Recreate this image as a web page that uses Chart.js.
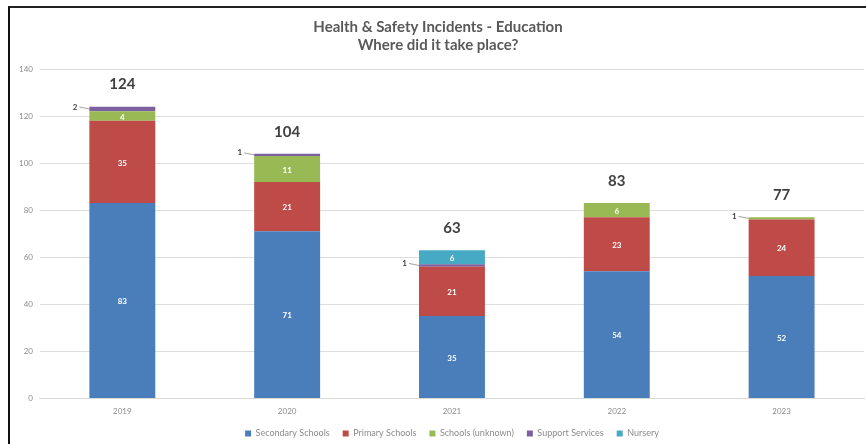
<!DOCTYPE html>
<html>
<head>
<meta charset="utf-8">
<script src="https://cdn.jsdelivr.net/npm/chart.js@4/dist/chart.umd.min.js"></script>
<style>
  html, body { margin: 0; padding: 0; background: #fff; }
  #frame {
    position: absolute; left: 8px; top: 6px;
    width: 856px; height: 438px;
    border-left: 2px solid #111; border-top: 2px solid #222;
  }
  #canvas-container { position: absolute; left: 0; top: 0; width: 856px; height: 438px; }
</style>
</head>
<body>
<div id="frame"><div id="canvas-container"><canvas id="incidents"></canvas></div></div>
<script>
const years = ["2019", "2020", "2021", "2022", "2023"];
const secondarySchools = [83, 71, 35, 54, 52];
const primarySchools = [35, 21, 21, 23, 24];
const schoolsUnknown = [4, 11, 0, 6, 1];
const supportServices = [2, 1, 1, 0, 0];
const nursery = [0, 0, 6, 0, 0];
const yTicks = [0, 20, 40, 60, 80, 100, 120, 140];

const FONT = "Lato, 'Open Sans', sans-serif";

// labels inside segments, callouts for the tiny ones, totals on top
const segmentLabels = {
  id: "segmentLabels",
  afterDatasetsDraw(chart) {
    const ctx = chart.ctx;
    ctx.save();
    chart.data.datasets.forEach((ds, i) => {
      const meta = chart.getDatasetMeta(i);
      meta.data.forEach((bar, j) => {
        const v = ds.data[j];
        if (!v) return;
        const mid = (bar.y + bar.base) / 2;
        if (v >= 3) {
          ctx.fillStyle = "#fff";
          ctx.font = "bold 8px " + FONT;
          ctx.textAlign = "center";
          ctx.textBaseline = "middle";
          ctx.fillText(String(v), bar.x, mid + 1);
        } else {
          const left = bar.x - bar.width / 2;
          ctx.strokeStyle = "#8c8c8c";
          ctx.lineWidth = 0.8;
          ctx.beginPath();
          ctx.moveTo(left - 10, mid - 2);
          ctx.lineTo(left, mid);
          ctx.stroke();
          ctx.fillStyle = "#404040";
          ctx.font = "bold 8px " + FONT;
          ctx.textAlign = "right";
          ctx.textBaseline = "middle";
          ctx.fillText(String(v), left - 12, mid - 2);
        }
      });
    });
    const y = chart.scales.y;
    const meta0 = chart.getDatasetMeta(0);
    years.forEach((yr, j) => {
      const total = chart.data.datasets.reduce((s, ds) => s + (ds.data[j] || 0), 0);
      ctx.fillStyle = "#404040";
      ctx.font = "bold 15px " + FONT;
      ctx.textAlign = "center";
      ctx.textBaseline = "middle";
      ctx.fillText(String(total), meta0.data[j].x, y.getPixelForValue(total) - 22);
    });
    ctx.restore();
  }
};

const data = {
  labels: years,
  datasets: [
    { label: "Secondary Schools", data: secondarySchools, backgroundColor: "#4a7ebb" },
    { label: "Primary Schools", data: primarySchools, backgroundColor: "#be4b48" },
    { label: "Schools (unknown)", data: schoolsUnknown, backgroundColor: "#98b954" },
    { label: "Support Services", data: supportServices, backgroundColor: "#7d60a0" },
    { label: "Nursery", data: nursery, backgroundColor: "#46aac5" }
  ]
};

const config = {
  type: "bar",
  data: data,
  plugins: [segmentLabels],
  options: {
    responsive: false,
    animation: false,
    maintainAspectRatio: false,
    layout: { padding: { top: 0, right: 2, left: 2, bottom: -2 } },
    datasets: { bar: { categoryPercentage: 1, barPercentage: 0.4 } },
    scales: {
      x: {
        stacked: true,
        grid: { display: false },
        border: { color: "#d9d9d9" },
        ticks: { color: "#8c8c8c", font: { family: FONT, size: 8 }, padding: 0 }
      },
      y: {
        stacked: true,
        min: 0, max: 140,
        afterBuildTicks(axis) { axis.ticks = yTicks.map(v => ({ value: v })); },
        grid: { color: "#dedede", drawTicks: false },
        border: { display: false },
        ticks: { color: "#8c8c8c", font: { family: FONT, size: 8 }, padding: 7 }
      }
    },
    plugins: {
      title: {
        display: true,
        text: ["Health & Safety Incidents - Education", "Where did it take place?"],
        color: "#595959",
        font: { family: FONT, size: 15, weight: "bold", lineHeight: 1.2 },
        padding: { top: 10, bottom: 15 }
      },
      legend: {
        position: "bottom",
        fullSize: false,
        labels: {
          color: "#8c8c8c",
          font: { family: FONT, size: 9 },
          boxWidth: 6, boxHeight: 6,
          padding: 13
        }
      },
      tooltip: { enabled: false }
    }
  }
};

const canv = document.getElementById("incidents");
canv.width = 856;
canv.height = 438;
const chart = new Chart(canv.getContext("2d"), config);
</script>
</body>
</html>
